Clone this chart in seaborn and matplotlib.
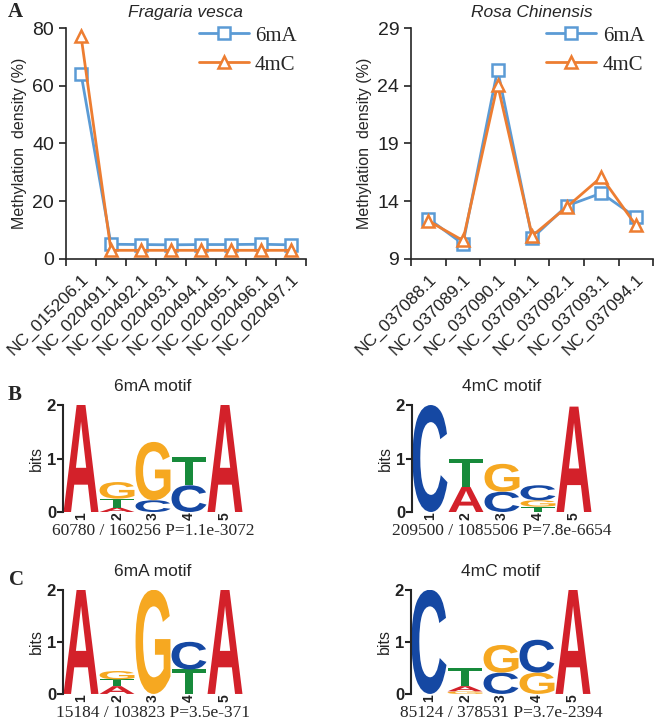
import numpy as np
import pandas as pd
import matplotlib
matplotlib.use("Agg")
import matplotlib.pyplot as plt
import seaborn as sns
from matplotlib.textpath import TextPath
from matplotlib.patches import PathPatch
from matplotlib.font_manager import FontProperties, findfont
from matplotlib.transforms import Affine2D

# ──────────────────────────────────────────────
# Data
# ──────────────────────────────────────────────

fv_chroms = ["NC_015206.1", "NC_020491.1", "NC_020492.1", "NC_020493.1",
             "NC_020494.1", "NC_020495.1", "NC_020496.1", "NC_020497.1"]
fv_6ma = [64.2, 5.1, 5.0, 4.9, 5.0, 5.0, 5.1, 4.9]
fv_4mc = [77.3, 3.0, 3.0, 3.0, 3.0, 3.0, 3.0, 3.0]

rc_chroms = ["NC_037088.1", "NC_037089.1", "NC_037090.1", "NC_037091.1",
             "NC_037092.1", "NC_037093.1", "NC_037094.1"]
rc_6ma = [12.5, 10.3, 25.4, 10.8, 13.6, 14.7, 12.6]
rc_4mc = [12.3, 10.6, 24.1, 11.0, 13.5, 16.1, 11.9]

fv_yticks = [0, 20, 40, 60, 80]
rc_yticks = [9, 14, 19, 24, 29]

# motif logos: per position, (base, bits) stacked bottom -> top
logo_b_6ma = [[("A", 2.0)],
              [("A", 0.08), ("T", 0.17), ("G", 0.31)],
              [("C", 0.22), ("G", 1.09)],
              [("C", 0.50), ("T", 0.52)],
              [("A", 2.0)]]
logo_b_4mc = [[("C", 2.0)],
              [("A", 0.47), ("T", 0.53)],
              [("C", 0.38), ("G", 0.52)],
              [("T", 0.10), ("G", 0.12), ("C", 0.28)],
              [("A", 1.97)]]
logo_c_6ma = [[("A", 2.0)],
              [("A", 0.15), ("T", 0.13), ("G", 0.16)],
              [("G", 2.0)],
              [("T", 0.47), ("C", 0.53)],
              [("A", 2.0)]]
logo_c_4mc = [[("C", 2.0)],
              [("G", 0.05), ("A", 0.10), ("T", 0.34)],
              [("C", 0.41), ("G", 0.53)],
              [("G", 0.41), ("C", 0.63)],
              [("A", 2.0)]]

caption_b_6ma = "60780 / 160256 P=1.1e-3072"
caption_b_4mc = "209500 / 1085506 P=7.8e-6654"
caption_c_6ma = "15184 / 103823 P=3.5e-371"
caption_c_4mc = "85124 / 378531 P=3.7e-2394"

# ──────────────────────────────────────────────
# Style
# ──────────────────────────────────────────────

sns.set_theme(style="ticks")
plt.rcParams["font.family"] = ["Liberation Sans", "DejaVu Sans"]
plt.rcParams["axes.linewidth"] = 1.2
plt.rcParams["xtick.color"] = "#222222"
plt.rcParams["ytick.color"] = "#222222"

SERIES_COLORS = {"6mA": "#5b9bd5", "4mC": "#ed7d31"}
SERIES_MARKERS = {"6mA": "s", "4mC": "^"}
BASE_COLORS = {"A": "#d3212a", "C": "#1548a3", "G": "#f6a821", "T": "#178a3b"}
SERIF = ["Liberation Serif", "DejaVu Serif"]

# narrow bold face gives heavy strokes once stretched to the column width
try:
    findfont(FontProperties(family="Liberation Sans Narrow", weight="bold"),
             fallback_to_default=False)
    LOGO_FONT = FontProperties(family="Liberation Sans Narrow", weight="bold")
except Exception:
    LOGO_FONT = FontProperties(family="Liberation Sans", weight="bold")


def draw_density(ax, chroms, s6, s4, yticks, title):
    """Line chart of methylation density per chromosome."""
    n = len(chroms)
    x = np.arange(n)
    df = pd.DataFrame({
        "pos": np.concatenate([x, x]),
        "density": list(s6) + list(s4),
        "type": ["6mA"] * n + ["4mC"] * n,
    })
    sns.lineplot(data=df, x="pos", y="density", hue="type", style="type",
                 hue_order=["6mA", "4mC"], palette=SERIES_COLORS,
                 markers=SERIES_MARKERS, dashes=False, errorbar=None,
                 linewidth=2.0, markersize=9, legend=False, ax=ax)
    for line in ax.lines:
        line.set_markerfacecolor("white")
        line.set_markeredgecolor(line.get_color())
        line.set_markeredgewidth(1.8)

    ax.set_xlim(-0.5, n - 0.5)
    ax.set_ylim(yticks[0], yticks[-1])
    ax.set_yticks(yticks)
    ax.set_xticks(x)
    ax.set_xticklabels(chroms, rotation=45, ha="right", rotation_mode="anchor",
                       fontsize=12.5)
    ax.set_xticks(np.arange(n + 1) - 0.5, minor=True)
    ax.tick_params(axis="x", which="major", length=0, pad=9)
    ax.tick_params(axis="x", which="minor", length=5, width=1.2, direction="out")
    ax.tick_params(axis="y", length=5, width=1.2, labelsize=14)
    ax.set_xlabel("")
    ax.set_ylabel("Methylation  density (%)", fontsize=11.5)
    ax.set_title(title, fontsize=12.5, style="italic", pad=8)
    sns.despine(ax=ax)

    ax.legend(handles=ax.lines[:2], labels=["6mA", "4mC"], loc="upper right",
              bbox_to_anchor=(1.04, 1.09), frameon=False, handlelength=2.4,
              handletextpad=0.3, labelspacing=0.45,
              prop={"family": SERIF, "size": 15})


def draw_letter(ax, base, xc, y0, h, w=0.97):
    tp = TextPath((0, 0), base, size=1, prop=LOGO_FONT)
    bb = tp.get_extents()
    tr = (Affine2D().translate(-bb.x0, -bb.y0)
          .scale(w / bb.width, h / bb.height)
          .translate(xc - w / 2, y0))
    ax.add_patch(PathPatch(tr.transform_path(tp), fc=BASE_COLORS[base], ec="none"))


def draw_logo(ax, stacks, title, caption):
    """Sequence logo with letters scaled to information content."""
    for i, stack in enumerate(stacks, start=1):
        y = 0.0
        for base, h in stack:
            draw_letter(ax, base, i, y, h)
            y += h
    ax.set_xlim(0.5, len(stacks) + 0.5)
    ax.set_ylim(0, 2)
    ax.set_yticks([0, 1, 2])
    ax.set_xticks(np.arange(1, len(stacks) + 1))
    ax.tick_params(axis="y", length=4, width=1.5, labelsize=12, pad=1)
    ax.tick_params(axis="x", length=0, labelsize=10, pad=0, labelrotation=90)
    for lab in ax.get_xticklabels() + ax.get_yticklabels():
        lab.set_fontweight("bold")
    ax.set_ylabel("bits", fontsize=11.5, labelpad=2)
    ax.set_title(title, fontsize=12.5, pad=10)
    sns.despine(ax=ax, bottom=True)
    ax.spines["left"].set_linewidth(1.5)
    ax.annotate(caption, xy=(0.5, 0), xycoords="axes fraction",
                xytext=(0, -14), textcoords="offset points",
                ha="center", va="center", fontsize=12.5, family=SERIF)


# ──────────────────────────────────────────────
# Figure
# ──────────────────────────────────────────────

fig = plt.figure(figsize=(6.55, 7.24), dpi=100)

ax_fv = fig.add_axes([0.1008, 0.6423, 0.366, 0.319])
ax_rc = fig.add_axes([0.6275, 0.6423, 0.370, 0.319])
ax_b1 = fig.add_axes([0.0962, 0.2928, 0.2748, 0.1478])
ax_b2 = fig.add_axes([0.6290, 0.2928, 0.2748, 0.1478])
ax_c1 = fig.add_axes([0.0962, 0.0415, 0.2748, 0.1440])
ax_c2 = fig.add_axes([0.6275, 0.0415, 0.2748, 0.1440])

draw_density(ax_fv, fv_chroms, fv_6ma, fv_4mc, fv_yticks, "Fragaria vesca")
draw_density(ax_rc, rc_chroms, rc_6ma, rc_4mc, rc_yticks, "Rosa Chinensis")

draw_logo(ax_b1, logo_b_6ma, "6mA motif", caption_b_6ma)
draw_logo(ax_b2, logo_b_4mc, "4mC motif", caption_b_4mc)
draw_logo(ax_c1, logo_c_6ma, "6mA motif", caption_c_6ma)
draw_logo(ax_c2, logo_c_4mc, "4mC motif", caption_c_4mc)

for letter, (px, py) in {"A": (15, 12), "B": (15, 395), "C": (17, 580)}.items():
    fig.text(px / 655, 1 - py / 724, letter, ha="center", va="center",
             fontsize=15, fontweight="bold", family=SERIF)

fig.savefig("out.png", dpi=100)
